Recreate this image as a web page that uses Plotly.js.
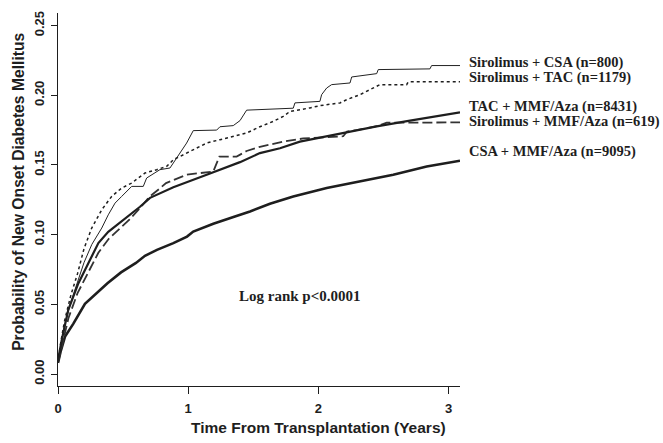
<!DOCTYPE html>
<html>
<head>
<meta charset="utf-8">
<script src="https://cdn.plot.ly/plotly-3.0.1.min.js"></script>
<style>html,body{margin:0;padding:0;background:#fff;}#chart{width:663px;height:443px;}</style>
</head>
<body>
<div id="chart"></div>
<script>
// Time (years) and cumulative probability for each regimen
const sirCsaT = [0, 0.02, 0.05, 0.10, 0.15, 0.20, 0.26, 0.336, 0.386, 0.438, 0.489, 0.566, 0.655, 0.681, 0.783, 0.860, 0.886, 0.937, 0.988, 1.039, 1.219, 1.244, 1.346, 1.398, 1.449, 1.807, 1.82, 2.012, 2.025, 2.064, 2.102, 2.243, 2.256, 2.448, 2.46, 2.857, 2.87, 3.088];
const sirCsaV = [0.008, 0.02, 0.035, 0.052, 0.066, 0.080, 0.093, 0.1047, 0.1142, 0.1226, 0.1274, 0.1346, 0.1346, 0.1406, 0.1466, 0.1478, 0.1514, 0.1586, 0.1657, 0.1746, 0.175, 0.1774, 0.1782, 0.1818, 0.1893, 0.1907, 0.1945, 0.1956, 0.2004, 0.2052, 0.2076, 0.2088, 0.2131, 0.2155, 0.2184, 0.2189, 0.2213, 0.2213];

const sirTacT = [0, 0.02, 0.05, 0.10, 0.15, 0.20, 0.259, 0.336, 0.412, 0.489, 0.566, 0.668, 0.758, 0.835, 0.886, 0.962, 1.039, 1.142, 1.244, 1.346, 1.449, 1.551, 1.654, 1.73, 1.782, 1.935, 2.012, 2.166, 2.217, 2.319, 2.371, 2.473, 2.678, 2.69, 3.088];
const sirTacV = [0.008, 0.022, 0.038, 0.057, 0.072, 0.09, 0.1047, 0.1178, 0.1274, 0.1334, 0.137, 0.1442, 0.1466, 0.149, 0.1537, 0.1573, 0.1609, 0.1657, 0.1681, 0.1705, 0.1729, 0.1774, 0.1813, 0.1848, 0.1884, 0.1909, 0.1925, 0.1945, 0.1968, 0.2004, 0.2028, 0.2076, 0.2076, 0.2096, 0.2096];

const tacMmfT = [0, 0.03, 0.079, 0.156, 0.233, 0.310, 0.386, 0.463, 0.540, 0.630, 0.707, 0.886, 1.142, 1.398, 1.551, 1.705, 1.858, 2.064, 2.191, 2.319, 2.448, 2.704, 2.883, 3.088];
const tacMmfV = [0.010, 0.025, 0.046, 0.065, 0.0795, 0.0939, 0.102, 0.1078, 0.113, 0.120, 0.1264, 0.134, 0.143, 0.152, 0.1585, 0.162, 0.1667, 0.1705, 0.173, 0.1753, 0.1777, 0.1818, 0.1848, 0.1877];

const sirMmfT = [0, 0.03, 0.08, 0.15, 0.23, 0.31, 0.39, 0.47, 0.55, 0.63, 0.70, 0.78, 0.83, 0.988, 1.09, 1.193, 1.24, 1.372, 1.449, 1.551, 1.73, 1.884, 2.191, 2.22, 2.294, 2.46, 2.525, 3.088];
const sirMmfV = [0.008, 0.02, 0.04, 0.058, 0.073, 0.087, 0.097, 0.104, 0.111, 0.119, 0.127, 0.133, 0.137, 0.143, 0.144, 0.1453, 0.156, 0.156, 0.160, 0.163, 0.1667, 0.169, 0.1706, 0.174, 0.175, 0.178, 0.1803, 0.1805];

const csaMmfT = [0, 0.02, 0.054, 0.117, 0.207, 0.284, 0.380, 0.484, 0.599, 0.668, 0.760, 0.886, 0.991, 1.039, 1.193, 1.359, 1.475, 1.628, 1.807, 2.064, 2.319, 2.575, 2.832, 3.088];
const csaMmfV = [0.008, 0.016, 0.0268, 0.036, 0.0503, 0.0568, 0.0651, 0.0729, 0.0797, 0.0848, 0.0891, 0.0939, 0.0986, 0.1022, 0.1078, 0.113, 0.1166, 0.1221, 0.1274, 0.1334, 0.1381, 0.1430, 0.1489, 0.1530];

const seriesNames = ["Sirolimus + CSA (n=800)", "Sirolimus + TAC (n=1179)", "TAC + MMF/Aza (n=8431)", "Sirolimus + MMF/Aza (n=619)", "CSA + MMF/Aza (n=9095)"];
const xTicks = [0, 1, 2, 3];
const yTicks = [0.00, 0.05, 0.10, 0.15, 0.20, 0.25];
const xTitle = "Time From Transplantation (Years)";
const yTitle = "Probability of New Onset Diabetes Mellitus";
const noteText = "Log rank p<0.0001";

const ink = "#1e1e1e";
const traces = [
  {x: csaMmfT, y: csaMmfV, name: seriesNames[4], mode: "lines", line: {color: ink, width: 2.6}},
  {x: sirMmfT, y: sirMmfV, name: seriesNames[3], mode: "lines", line: {color: "#333", width: 1.8, dash: "10px,4px"}},
  {x: tacMmfT, y: tacMmfV, name: seriesNames[2], mode: "lines", line: {color: ink, width: 2.2}},
  {x: sirTacT, y: sirTacV, name: seriesNames[1], mode: "lines", line: {color: ink, width: 1.5, dash: "dot"}},
  {x: sirCsaT, y: sirCsaV, name: seriesNames[0], mode: "lines", line: {color: "#222", width: 1}}
];

const labelY = [0.8668, 0.8276, 0.7488, 0.7086, 0.6282];
const annotations = seriesNames.map((s, i) => ({
  text: "<b>" + s + "</b>", xref: "paper", yref: "paper", x: 1.017, y: labelY[i],
  xanchor: "left", yanchor: "middle", showarrow: false,
  font: {family: "Liberation Serif, Times New Roman, serif", size: 14.5, color: ink}
}));
annotations.push({
  text: "<b>" + noteText + "</b>", xref: "paper", yref: "paper", x: 0.603, y: 0.241,
  xanchor: "center", yanchor: "middle", showarrow: false,
  font: {family: "Liberation Serif, Times New Roman, serif", size: 15, color: ink}
});
annotations.push({
  text: "<b>" + xTitle + "</b>", xref: "paper", yref: "paper", x: 0.647, y: -0.112,
  xanchor: "center", yanchor: "middle", showarrow: false,
  font: {family: "Liberation Sans, Arial, sans-serif", size: 15.5, color: ink}
});
annotations.push({
  text: "<b>" + yTitle + "</b>", xref: "paper", yref: "paper", x: -0.1, y: 0.52,
  xanchor: "center", yanchor: "middle", showarrow: false, textangle: -90,
  font: {family: "Liberation Sans, Arial, sans-serif", size: 15.7, color: ink}
});

const layout = {
  width: 663, height: 443,
  margin: {l: 58, r: 203, t: 13, b: 57, pad: 0},
  paper_bgcolor: "#fff", plot_bgcolor: "#fff",
  showlegend: false,
  font: {family: "Liberation Sans, Arial, sans-serif", color: ink},
  xaxis: {
    range: [0, 3.088], tickvals: xTicks, ticktext: xTicks.map(v => "<b>" + v + "</b>"),
    showgrid: false, zeroline: false, showline: true, linecolor: ink, linewidth: 1.2,
    ticks: "outside", ticklen: 7, tickwidth: 1, tickcolor: ink,
    tickfont: {size: 13, color: ink}, ticklabelstandoff: 3
  },
  yaxis: {
    range: [-0.0086, 0.259], tickvals: yTicks, ticktext: yTicks.map(v => "<b>" + v.toFixed(2) + "</b>"),
    tickangle: -90,
    showgrid: false, zeroline: false, showline: true, linecolor: ink, linewidth: 1.2,
    ticks: "outside", ticklen: 6, tickwidth: 1, tickcolor: ink,
    tickfont: {size: 13, color: ink}, ticklabelstandoff: 2
  },
  annotations: annotations
};

Plotly.newPlot("chart", traces, layout, {staticPlot: true, displayModeBar: false});
</script>
</body>
</html>
